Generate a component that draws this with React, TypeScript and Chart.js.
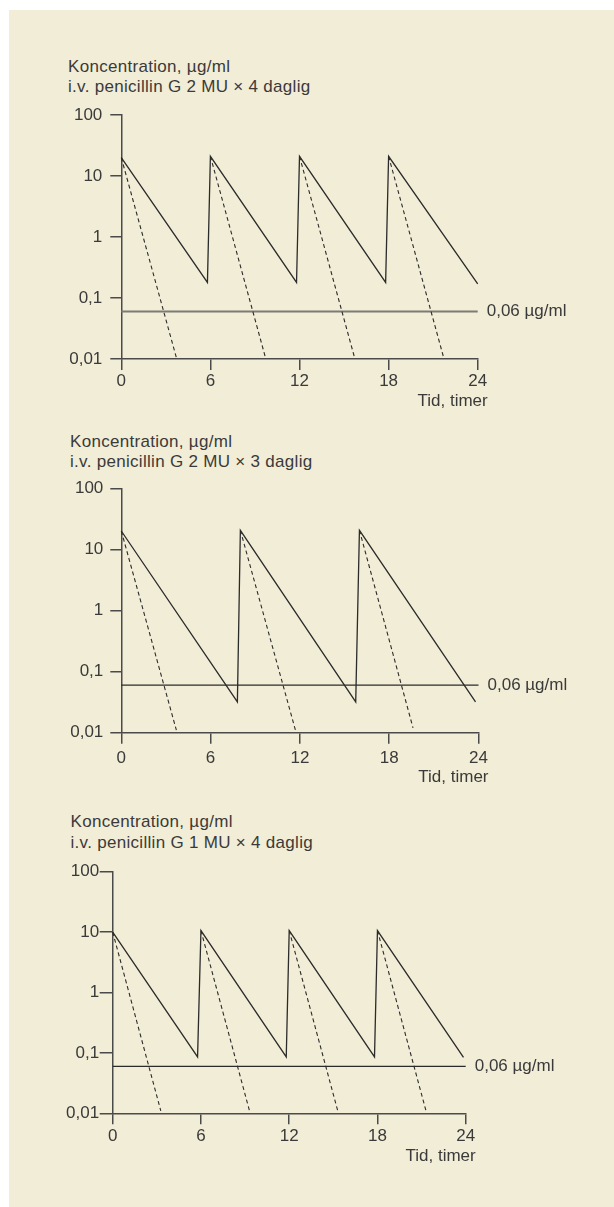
import React, { useEffect, useRef } from 'react';
import { Chart, registerables } from 'chart.js';

Chart.register(...registerables);

// ---------- shared texts / ticks ----------
const yTickValues = [0.01, 0.1, 1, 10, 100];
const yTickLabels = ['0,01', '0,1', '1', '10', '100'];
const xTickValues = [0, 6, 12, 18, 24];
const xTickLabels = ['0', '6', '12', '18', '24'];
const thresholdValue = 0.06;
const thresholdLabel = '0,06 µg/ml';
const xAxisTitle = 'Tid, timer';
const yAxisTitle = 'Koncentration, µg/ml';

// ---------- panel 1: 2 MU x 4 ----------
const p1Title = 'i.v. penicillin G 2 MU × 4 daglig';
const p1SolidTimes = [0, 5.8, 6, 11.8, 12, 17.8, 18, 24];
const p1SolidValues = [20, 0.18, 21, 0.18, 21, 0.18, 21, 0.17];
const p1DashStartTimes = [0, 6, 12, 18];
const p1DashStartValues = [20, 21, 21, 21];
const p1DashEndTimes = [3.7, 9.7, 15.7, 21.7];
const p1DashEndValues = [0.0107, 0.0107, 0.0107, 0.0107];

// ---------- panel 2: 2 MU x 3 ----------
const p2Title = 'i.v. penicillin G 2 MU × 3 daglig';
const p2SolidTimes = [0, 7.8, 8, 15.75, 16, 23.8];
const p2SolidValues = [20, 0.032, 20.5, 0.032, 20.5, 0.032];
const p2DashStartTimes = [0, 8, 16];
const p2DashStartValues = [20, 20.5, 20.5];
const p2DashEndTimes = [3.7, 11.7, 19.6];
const p2DashEndValues = [0.011, 0.011, 0.012];

// ---------- panel 3: 1 MU x 4 ----------
const p3Title = 'i.v. penicillin G 1 MU × 4 daglig';
const p3SolidTimes = [0, 5.77, 6, 11.8, 12, 17.8, 18, 23.85];
const p3SolidValues = [10, 0.086, 10.6, 0.086, 10.6, 0.086, 10.6, 0.084];
const p3DashStartTimes = [0, 6, 12, 18];
const p3DashStartValues = [10, 10.6, 10.6, 10.6];
const p3DashEndTimes = [3.27, 9.3, 15.3, 21.3];
const p3DashEndValues = [0.011, 0.011, 0.011, 0.011];

const FONT = "'Liberation Sans', Arial, sans-serif";
const TEXT = '#3a3a3a';
const AXIS = '#4a4a4a';
const LINE = '#2b2b2b';

type Pt = { x: number; y: number | null };

function solidData(t: number[], v: number[]): Pt[] {
  return t.map((x, i) => ({ x, y: v[i] }));
}
function dashData(st: number[], sv: number[], et: number[], ev: number[]): Pt[] {
  const out: Pt[] = [];
  st.forEach((s, i) => {
    out.push({ x: s, y: sv[i] });
    out.push({ x: et[i], y: ev[i] });
    out.push({ x: et[i], y: null });
  });
  return out;
}

interface PanelCfg {
  title: string;
  solid: Pt[];
  dash: Pt[];
  top: number; // canvas top (page)
  h: number; // canvas height
  left: number; // chart area left
  right: number; // chart area right
  chartTop: number; // page y of 100
  chartBottom: number; // page y of 0.01
  yTickLen: number;
  yPad: number;
  xTickLen: number;
  xPad: number;
  threshColor: string;
  threshWidth: number;
  titleLeft: number;
  titleTop: number;
  titleLH: number;
}

const panels: PanelCfg[] = [
  {
    title: p1Title,
    solid: solidData(p1SolidTimes, p1SolidValues),
    dash: dashData(p1DashStartTimes, p1DashStartValues, p1DashEndTimes, p1DashEndValues),
    top: 40, h: 380, left: 121.3, right: 477.7, chartTop: 115, chartBottom: 359,
    yTickLen: 11, yPad: 8, xTickLen: 11, xPad: 1.5,
    threshColor: '#7d7b72', threshWidth: 2,
    titleLeft: 68, titleTop: 56.7, titleLH: 20,
  },
  {
    title: p2Title,
    solid: solidData(p2SolidTimes, p2SolidValues),
    dash: dashData(p2DashStartTimes, p2DashStartValues, p2DashEndTimes, p2DashEndValues),
    top: 420, h: 380, left: 121.3, right: 478.5, chartTop: 488.3, chartBottom: 732.7,
    yTickLen: 11, yPad: 7, xTickLen: 11, xPad: 4,
    threshColor: LINE, threshWidth: 1.3,
    titleLeft: 70, titleTop: 431.7, titleLH: 20,
  },
  {
    title: p3Title,
    solid: solidData(p3SolidTimes, p3SolidValues),
    dash: dashData(p3DashStartTimes, p3DashStartValues, p3DashEndTimes, p3DashEndValues),
    top: 800, h: 407, left: 112.7, right: 465.7, chartTop: 871.7, chartBottom: 1113.3,
    yTickLen: 13, yPad: 0.5, xTickLen: 11, xPad: 2,
    threshColor: LINE, threshWidth: 1.3,
    titleLeft: 70.5, titleTop: 810.7, titleLH: 21,
  },
];

function Panel({ cfg }: { cfg: PanelCfg }) {
  const ref = useRef<HTMLCanvasElement>(null);
  useEffect(() => {
    const textPlugin = {
      id: 'panelText',
      afterDraw(chart: any) {
        const { ctx, chartArea, scales } = chart;
        ctx.save();
        ctx.fillStyle = TEXT;
        ctx.font = `17px ${FONT}`;
        ctx.textBaseline = 'middle';
        ctx.textAlign = 'left';
        const ty = scales.y.getPixelForValue(thresholdValue);
        ctx.fillText(thresholdLabel, chartArea.right + 9, ty);
        ctx.textAlign = 'right';
        const labelCenter = chartArea.bottom + cfg.xTickLen + cfg.xPad + 10.2;
        ctx.fillText(xAxisTitle, chartArea.right + 10, labelCenter + 19.5);
        ctx.restore();
      },
    };
    const chart = new Chart(ref.current!, {
      type: 'line',
      data: {
        datasets: [
          {
            data: cfg.solid as any,
            borderColor: LINE,
            borderWidth: 1.3,
            pointRadius: 0,
            tension: 0,
            fill: false,
            clip: false as any,
          },
          {
            data: cfg.dash as any,
            borderColor: LINE,
            borderWidth: 1.1,
            borderDash: [4, 3],
            pointRadius: 0,
            tension: 0,
            fill: false,
            spanGaps: false,
            clip: false as any,
          },
          {
            data: [
              { x: 0, y: thresholdValue },
              { x: 24, y: thresholdValue },
            ] as any,
            borderColor: cfg.threshColor,
            borderWidth: cfg.threshWidth,
            pointRadius: 0,
            fill: false,
            clip: false as any,
          },
        ],
      },
      options: {
        animation: false,
        responsive: false,
        maintainAspectRatio: false,
        events: [],
        layout: {
          padding: {
            left: 0,
            right: 614 - cfg.right,
            top: cfg.chartTop - cfg.top,
            bottom: 0,
          },
        },
        plugins: {
          legend: { display: false },
          tooltip: { enabled: false },
          title: { display: false },
        },
        scales: {
          x: {
            type: 'linear',
            min: 0,
            max: 24,
            afterBuildTicks: (s: any) => {
              s.ticks = xTickValues.map((v) => ({ value: v }));
            },
            afterFit: (s: any) => {
              s.height = cfg.top + cfg.h - cfg.chartBottom;
            },
            ticks: {
              autoSkip: false,
              maxRotation: 0,
              padding: cfg.xPad,
              color: TEXT,
              font: { family: FONT, size: 17 },
              callback: (v: any) => {
                const i = xTickValues.indexOf(Number(v));
                return i >= 0 ? xTickLabels[i] : '';
              },
            },
            grid: {
              display: true,
              drawOnChartArea: false,
              drawTicks: true,
              tickLength: cfg.xTickLen,
              color: AXIS,
              lineWidth: 1.5,
            },
            border: { display: true, color: AXIS, width: 1.5 },
          },
          y: {
            type: 'logarithmic',
            min: 0.01,
            max: 100,
            afterBuildTicks: (s: any) => {
              s.ticks = yTickValues.map((v) => ({ value: v }));
            },
            afterFit: (s: any) => {
              s.width = cfg.left;
            },
            ticks: {
              autoSkip: false,
              padding: cfg.yPad,
              color: TEXT,
              font: { family: FONT, size: 17 },
              callback: (v: any) => {
                const n = Number(v);
                const i = yTickValues.findIndex((t) => Math.abs(t - n) / t < 1e-6);
                return i >= 0 ? yTickLabels[i] : '';
              },
            },
            grid: {
              display: true,
              drawOnChartArea: false,
              drawTicks: true,
              tickLength: cfg.yTickLen,
              color: AXIS,
              lineWidth: 1.5,
            },
            border: { display: true, color: AXIS, width: 1.5 },
          },
        },
      } as any,
      plugins: [textPlugin],
    });
    return () => chart.destroy();
  }, []);

  return (
    <>
      <div
        style={{
          position: 'absolute',
          left: cfg.titleLeft,
          top: cfg.titleTop,
          fontFamily: FONT,
          fontSize: 17,
          letterSpacing: 0.3,
          lineHeight: cfg.titleLH + 'px',
          color: TEXT,
          whiteSpace: 'pre',
        }}
      >
        {yAxisTitle}
        <br />
        {cfg.title}
      </div>
      <canvas
        ref={ref}
        width={614}
        height={cfg.h}
        style={{ position: 'absolute', left: 0, top: cfg.top, width: 614, height: cfg.h }}
      />
    </>
  );
}

export default function App() {
  return (
    <div style={{ position: 'absolute', left: 0, top: 0, width: 614, height: 1207, overflow: 'hidden' }}>
      <div
        style={{
          position: 'absolute',
          left: 9,
          top: 10,
          width: 605,
          height: 1197,
          background: '#f2edd6',
        }}
      />
      {panels.map((p, i) => (
        <Panel key={i} cfg={p} />
      ))}
    </div>
  );
}
